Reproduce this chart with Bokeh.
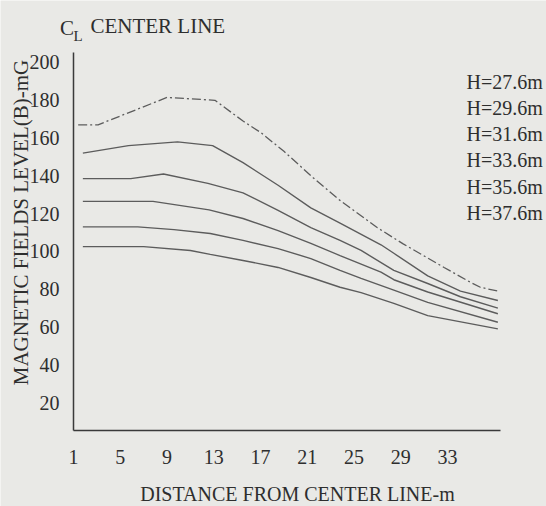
import math
from bokeh.plotting import figure
from bokeh.models import Range1d, FixedTicker, Label
from bokeh.embed import file_html
from bokeh.resources import INLINE

# ---- data ----
x_ticks = [1, 5, 9, 13, 17, 21, 25, 29, 33]
y_ticks = [20, 40, 60, 80, 100, 120, 140, 160, 180, 200]

series_names = ["H=27.6m", "H=29.6m", "H=31.6m", "H=33.6m", "H=35.6m", "H=37.6m"]

h276_x = [1.4, 3.1, 9.0, 13.1, 15.5, 17.0, 19.0, 21.5, 23.8, 27.0, 29.2, 32.7, 35.0, 35.8, 37.3]
h276_y = [167, 167, 181.5, 180, 169, 163, 153, 139, 127, 112.5, 104, 91.5, 83.5, 81, 79]

h296_x = [1.8, 5.7, 9.9, 12.9, 15.5, 18.5, 21.3, 23.8, 27.3, 28.4, 31.3, 34.1, 37.3]
h296_y = [152, 156, 158, 156, 147, 135, 123, 115, 103.5, 99, 87, 79, 74]

h316_x = [1.8, 5.9, 8.7, 12.5, 15.5, 18.5, 21.3, 23.8, 25.6, 28.4, 31.3, 34.1, 37.3]
h316_y = [138.5, 138.5, 141, 136, 131, 121.7, 112.6, 105.8, 100.5, 90, 83, 76, 70]

h336_x = [1.8, 7.8, 12.6, 15.5, 18.5, 21.3, 23.8, 27.3, 28.4, 31.3, 37.3]
h336_y = [126.5, 126.5, 122, 117.4, 111, 104.2, 97.8, 89, 85, 78.5, 67]

h356_x = [1.8, 6.5, 9.6, 12.7, 15.5, 18.5, 21.3, 23.8, 25.6, 28.4, 31.3, 37.3]
h356_y = [113, 113, 111.5, 109.5, 105.8, 101.5, 96.2, 90, 85.7, 79.5, 73, 62.5]

h376_x = [1.8, 7.0, 11.0, 12.7, 15.5, 18.5, 21.3, 23.8, 25.6, 28.4, 31.3, 37.3]
h376_y = [102.5, 102.5, 100.5, 98.4, 95.2, 91.5, 86.2, 81, 78.2, 72.5, 66, 59]

x_title = "DISTANCE FROM CENTER LINE-m"
y_title = "MAGNETIC FIELDS LEVEL(B)-mG"
top_title = "CENTER LINE"

# axis extents (data units)
x_axis_bounds = (1, 37.5)
y_axis_bounds = (5.2, 205.3)

# ---- style ----
FONT = "Liberation Serif"
BG = "#e9e9e6"
TXT = "#2e2e2e"
LINE = "#5c5c5c"

p = figure(width=546, height=506, output_backend="svg", toolbar_location=None,
           x_range=Range1d(-5.245, 41.46), y_range=Range1d(-35.05, 232.82),
           min_border=0, min_border_left=0, min_border_right=0,
           min_border_top=0, min_border_bottom=0)
p.background_fill_color = BG
p.border_fill_color = BG
p.outline_line_color = None
p.grid.visible = False

xa = p.xaxis[0]
ya = p.yaxis[0]
xa.fixed_location = y_axis_bounds[0]
ya.fixed_location = x_axis_bounds[0]
xa.bounds = x_axis_bounds
ya.bounds = y_axis_bounds

for ax in (xa, ya):
    ax.axis_line_color = "#3a3a3a"
    ax.axis_line_width = 1.5
    ax.major_tick_line_color = None
    ax.minor_tick_line_color = None
    ax.major_label_text_font = FONT
    ax.major_label_text_font_size = "20px"
    ax.major_label_text_color = TXT

xa.ticker = FixedTicker(ticks=x_ticks)
ya.ticker = FixedTicker(ticks=y_ticks)
xa.major_label_standoff = 14
ya.major_label_standoff = 8

# curves
p.line(h276_x, h276_y, line_color=LINE, line_width=1.3, line_dash="9 3 2 3")
solid = [(h296_x, h296_y), (h316_x, h316_y), (h336_x, h336_y), (h356_x, h356_y), (h376_x, h376_y)]
for xs, ys in solid:
    p.line(xs, ys, line_color=LINE, line_width=1.4)

# series labels at right
lab_x = 34.62
lab_top = 189.6
lab_step = 13.82
for i, name in enumerate(series_names):
    p.add_layout(Label(x=lab_x, y=lab_top - i * lab_step, text=name, text_font=FONT,
                       text_font_size="20px", text_color=TXT, text_baseline="middle",
                       text_align="left"))

# "C_L CENTER LINE" header
p.add_layout(Label(x=-0.15, y=218.5, text="C", text_font=FONT, text_font_size="21px",
                   text_color=TXT, text_baseline="alphabetic"))
p.add_layout(Label(x=1.0, y=213.8, text="L", text_font=FONT, text_font_size="15px",
                   text_color=TXT, text_baseline="alphabetic"))
p.add_layout(Label(x=2.45, y=219.06, text=top_title, text_font=FONT, text_font_size="21px",
                   text_color=TXT, text_baseline="alphabetic"))

# axis titles
p.add_layout(Label(x=20.16, y=-28.2, text=x_title, text_font=FONT, text_font_size="20px",
                   text_color=TXT, text_baseline="middle", text_align="center"))
p.add_layout(Label(x=-3.45, y=115.3, text=y_title, text_font=FONT, text_font_size="21px",
                   text_color=TXT, text_baseline="middle", text_align="center",
                   angle=math.pi / 2))

open("out.html", "w").write(file_html(p, INLINE))
